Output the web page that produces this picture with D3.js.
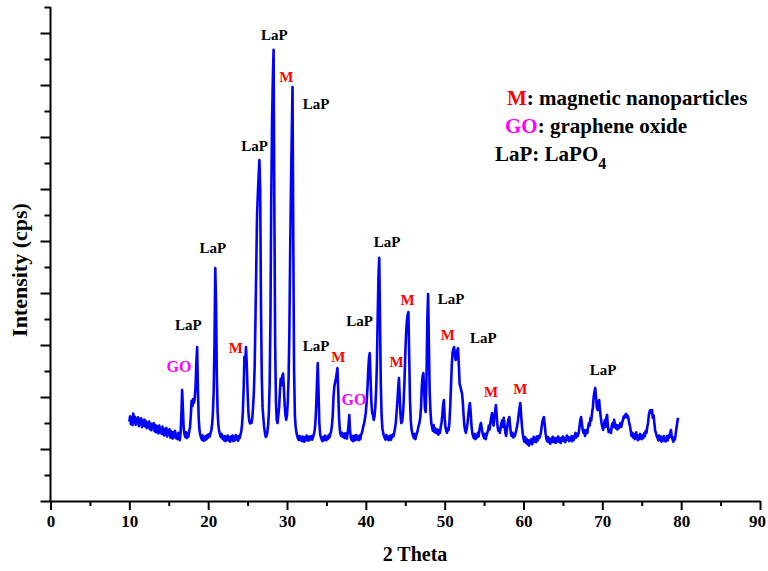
<!DOCTYPE html>
<html>
<head>
<meta charset="utf-8">
<script src="https://cdn.jsdelivr.net/npm/d3@7"></script>
<style>
  body { margin: 0; background: #fff; }
  svg text { font-family: "Liberation Serif", "Times New Roman", serif; font-weight: bold; }
</style>
</head>
<body>
<div id="chart"></div>
<script>
const FWIDTH = 768,
	FHEIGHT = 571;

// XRD scan, 2 theta from 10.0 in steps of 0.1
const thetaStart = 10.0,
	thetaStep = 0.1;
const counts = [
	305, 326, 296, 320, 292, 336, 304, 324, 293, 316, // 10
	300, 322, 288, 314, 296, 318, 284, 308, 290, 313,
	287, 307, 280, 300, 285, 306, 276, 298, 272, 294,
	282, 300, 268, 292, 264, 288, 279, 260, 290, 266,
	278, 258, 286, 264, 252, 277, 256, 281, 248, 270,
	258, 276, 244, 268, 250, 240, 265, 246, 270, 242, // 15
	256, 238, 262, 245, 234, 262, 330, 427, 352, 278,
	256, 246, 264, 242, 260, 248, 268, 285, 330, 385,
	365, 392, 378, 396, 440, 530, 592, 430, 318, 272,
	255, 244, 236, 252, 232, 246, 234, 250, 238, 254,
	244, 256, 248, 262, 272, 295, 340, 420, 600, 896, // 20
	760, 480, 340, 290, 268, 255, 246, 258, 240, 250,
	234, 250, 230, 247, 236, 252, 232, 244, 228, 248,
	236, 252, 230, 246, 234, 254, 238, 248, 232, 250,
	242, 255, 268, 295, 345, 430, 555, 530, 592, 520,
	420, 345, 310, 298, 305, 300, 320, 363, 420, 520, // 25
	700, 900, 1100, 1180, 1250, 1311, 1200, 750, 480, 360,
	320, 285, 262, 246, 250, 262, 290, 340, 450, 700,
	1150, 1450, 1620, 1735, 1100, 600, 380, 310, 300, 330,
	360, 420, 470, 445, 480, 490, 440, 370, 330, 312,
	330, 380, 470, 650, 950, 1200, 1400, 1592, 1000, 500, // 30
	330, 285, 262, 250, 240, 234, 250, 236, 246, 230,
	248, 236, 228, 246, 234, 252, 238, 232, 248, 236,
	242, 250, 236, 245, 255, 270, 300, 360, 450, 531,
	420, 300, 258, 245, 236, 230, 246, 234, 252, 240,
	234, 248, 238, 254, 245, 258, 268, 290, 330, 400, // 35
	440, 455, 470, 490, 511, 420, 320, 275, 255, 250,
	262, 246, 258, 242, 260, 248, 240, 262, 290, 331,
	270, 242, 234, 250, 230, 242, 252, 234, 254, 238,
	246, 234, 252, 238, 255, 262, 275, 290, 300, 320,
	340, 380, 430, 500, 550, 569, 470, 380, 340, 330, // 40
	312, 325, 360, 420, 520, 700, 860, 935, 700, 450,
	330, 280, 262, 250, 242, 236, 254, 238, 248, 234,
	244, 252, 236, 248, 255, 248, 262, 280, 300, 340,
	380, 430, 473, 400, 330, 300, 305, 330, 380, 460,
	560, 640, 690, 715, 727, 560, 390, 310, 275, 260, // 45
	250, 242, 258, 238, 254, 262, 275, 290, 300, 320,
	360, 440, 480, 492, 420, 355, 342, 480, 700, 796,
	600, 420, 345, 300, 285, 270, 292, 265, 280, 262,
	262, 275, 255, 270, 262, 285, 300, 330, 370, 388,
	320, 285, 270, 262, 280, 273, 300, 360, 440, 520, // 50
	570, 585, 592, 560, 542, 565, 580, 588, 520, 450,
	440, 425, 415, 380, 330, 290, 270, 262, 280, 300,
	330, 360, 377, 340, 290, 262, 250, 242, 258, 238,
	252, 244, 262, 248, 270, 290, 300, 280, 262, 250,
	242, 258, 238, 250, 262, 270, 290, 275, 300, 320, // 55
	338, 310, 290, 320, 345, 369, 330, 290, 270, 280,
	262, 280, 300, 310, 285, 320, 290, 262, 250, 275,
	300, 315, 323, 290, 260, 250, 262, 244, 256, 250,
	262, 275, 290, 310, 335, 360, 377, 330, 290, 260,
	240, 228, 246, 224, 238, 218, 234, 213, 232, 222, // 60
	238, 218, 234, 247, 228, 242, 226, 248, 233, 250,
	242, 250, 262, 285, 305, 318, 323, 290, 260, 240,
	230, 246, 226, 240, 220, 238, 228, 247, 226, 242,
	233, 224, 242, 230, 248, 228, 240, 223, 242, 232,
	248, 230, 242, 226, 238, 252, 236, 246, 230, 242, // 65
	234, 250, 230, 247, 236, 252, 262, 244, 258, 250,
	262, 285, 310, 323, 300, 275, 262, 273, 250, 262,
	273, 262, 285, 300, 290, 320, 310, 340, 360, 400,
	420, 435, 400, 360, 350, 370, 388, 350, 323, 300,
	285, 273, 290, 310, 285, 320, 331, 290, 265, 273, // 70
	273, 262, 290, 300, 285, 312, 295, 280, 292, 275,
	290, 280, 292, 300, 285, 298, 310, 325, 320, 331,
	335, 322, 328, 320, 300, 290, 270, 250, 262, 244,
	257, 238, 254, 264, 242, 234, 252, 238, 258, 244,
	238, 254, 242, 260, 250, 270, 262, 285, 300, 330, // 75
	345, 350, 340, 350, 320, 330, 300, 270, 262, 250,
	242, 233, 252, 236, 248, 228, 244, 234, 250, 230,
	240, 230, 250, 234, 252, 244, 262, 273, 250, 238,
	228, 244, 236, 256, 280, 300, 320, // 79
];

// peak annotations
const peakText = ["GO", "LaP", "LaP", "M", "LaP", "LaP", "M", "LaP", "LaP", "M", "GO",
	"LaP", "LaP", "M", "M", "LaP", "M", "LaP", "M", "M", "LaP"];
const peakTheta = [16.3, 17.5, 20.6, 23.5, 25.9, 28.4, 29.9, 33.7, 33.7, 36.5, 38.5,
	39.2, 42.7, 43.9, 45.3, 50.8, 50.4, 54.9, 55.9, 59.6, 70.1];
const peakCount = [498, 658, 954, 569, 1346, 1773, 1611, 1508, 577, 535, 369,
	673, 977, 515, 754, 758, 619, 608, 400, 412, 485];

// legend
const legendKey = ["M", "GO", "LaP"];
const legendText = [": magnetic nanoparticles", ": graphene oxide", ": LaPO"];
const phaseColor = { M: "#ff0000", GO: "#ff00ff", LaP: "#000000" };

const xTicks = d3.range(0, 91, 10);
const xMinor = d3.range(5, 90, 10);
const yMajor = d3.range(0, 1801, 200);
const yMinor = d3.range(100, 1901, 200);

const data = counts.map((c, i) => ({ theta: thetaStart + i * thetaStep, c: c }));

const svg = d3
	.select("#chart")
	.append("svg")
	.attr("width", FWIDTH)
	.attr("height", FHEIGHT);

svg.append("rect").attr("width", FWIDTH).attr("height", FHEIGHT).attr("fill", "#fff");

const x = d3.scaleLinear().domain([0, 90]).range([50.5, 760]);
const y = d3.scaleLinear().domain([0, 1900]).range([501, 7]);

// x axis
const gx = svg.append("g").attr("transform", "translate(0,501)");
gx.call(d3.axisBottom(x).tickValues(xTicks).tickSize(9).tickSizeOuter(0).tickPadding(5));
gx.append("g").call(d3.axisBottom(x).tickValues(xMinor).tickSize(5).tickFormat(""))
	.select(".domain").remove();
gx.selectAll("text").attr("font-size", 17).attr("fill", "#000");
gx.selectAll(".tick text").filter((d) => d === 90).attr("dx", -3);

// y axis
const gy = svg.append("g").attr("transform", "translate(50.5,0)");
gy.call(d3.axisLeft(y).tickValues(yMajor).tickSize(10).tickSizeOuter(0).tickFormat(""));
gy.append("g").call(d3.axisLeft(y).tickValues(yMinor).tickSize(6).tickFormat(""))
	.select(".domain").remove();
gy.select(".domain").attr("d", `M0,${y(1900)}V${y(0)}`);

svg.selectAll(".domain, .tick line").attr("stroke", "#000").attr("stroke-width", 2);

// spectrum
svg.append("path")
	.datum(data)
	.attr("fill", "none")
	.attr("stroke", "#0000ff")
	.attr("stroke-width", 2.6)
	.attr("stroke-linejoin", "round")
	.attr("d", d3.line().x((d) => x(d.theta)).y((d) => y(d.c)));

// peak labels
svg.append("g")
	.selectAll("text")
	.data(peakText)
	.enter()
	.append("text")
	.attr("x", (d, i) => x(peakTheta[i]))
	.attr("y", (d, i) => y(peakCount[i]))
	.attr("text-anchor", "middle")
	.attr("font-size", (d) => (d === "GO" ? 16 : 15))
	.attr("fill", (d) => phaseColor[d])
	.text((d) => d);

// legend
const legendX = [507, 505, 495];
const legendY = [105, 133, 161];
const leg = svg.append("g");
legendKey.forEach((k, i) => {
	const t = leg.append("text")
		.attr("x", legendX[i])
		.attr("y", legendY[i])
		.attr("font-size", 21);
	t.append("tspan").attr("fill", phaseColor[k]).text(k);
	t.append("tspan").attr("fill", "#000").text(legendText[i]);
	if (k === "LaP") {
		t.append("tspan").attr("font-size", 16).attr("dy", 8).text("4");
	}
});

// axis titles
svg.append("text")
	.attr("x", 415)
	.attr("y", 561)
	.attr("text-anchor", "middle")
	.attr("font-size", 20)
	.text("2 Theta");

svg.append("text")
	.attr("transform", "translate(27,270) rotate(-90)")
	.attr("text-anchor", "middle")
	.attr("font-size", 22)
	.text("Intensity (cps)");
</script>
</body>
</html>
